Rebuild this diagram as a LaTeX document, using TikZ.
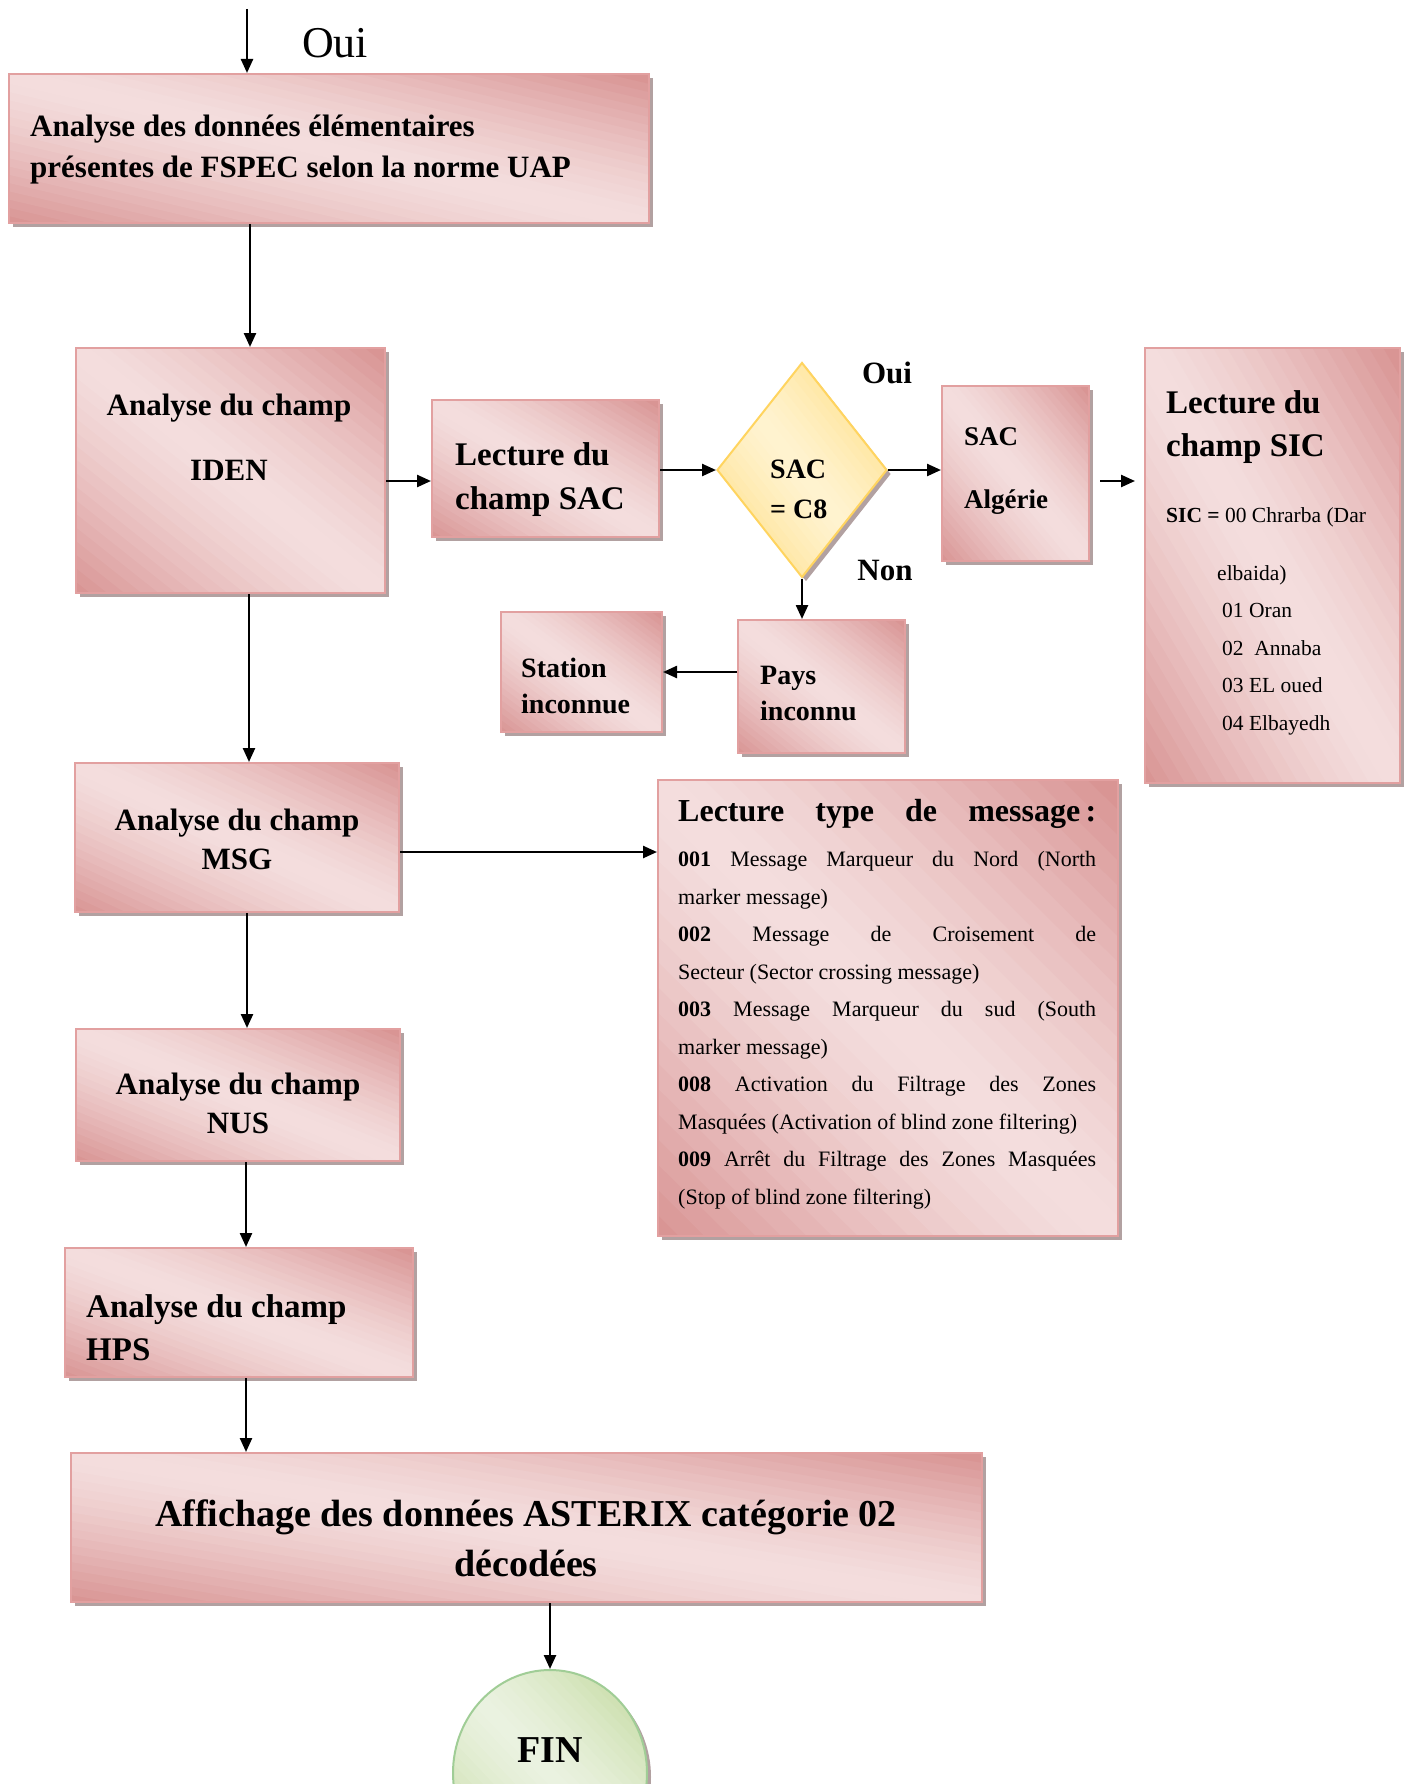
\documentclass[tikz,border=0pt]{standalone}
\usepackage{fontspec}
\setmainfont{Liberation Serif}
\usetikzlibrary{shapes.geometric,arrows.meta,shadows,fit}
\definecolor{pinkD}{RGB}{216,146,145}
\definecolor{pinkL}{RGB}{244,222,222}
\definecolor{pinkB}{RGB}{226,160,160}
\definecolor{shad}{RGB}{165,145,145}
\definecolor{yelD}{RGB}{255,214,100}
\definecolor{yelL}{RGB}{255,243,208}
\definecolor{yelB}{RGB}{255,212,95}
\definecolor{grnD}{RGB}{190,214,150}
\definecolor{grnL}{RGB}{234,242,224}
\definecolor{grnB}{RGB}{160,205,150}
\newcommand{\fsz}[2]{\fontsize{#1}{#2}\selectfont}
% diagonal gradient drawn as bands: dark at bottom-left and top-right, light in the middle
\newcommand{\gradbands}[3]{%
  \pgfpointanchor{path picture bounding box}{south west}\pgfgetlastxy{\gxa}{\gya}%
  \pgfpointanchor{path picture bounding box}{north east}\pgfgetlastxy{\gxb}{\gyb}%
  \pgfmathsetmacro{\ax}{\gxa}\pgfmathsetmacro{\ay}{\gya}%
  \pgfmathsetmacro{\gw}{\gxb-\gxa}\pgfmathsetmacro{\gh}{\gyb-\gya}%
  \foreach \k in {1,...,#3}{%
    \pgfmathsetmacro{\sa}{2*(\k-1)/#3-0.01}%
    \pgfmathsetmacro{\sb}{2*\k/#3+0.01}%
    \pgfmathsetmacro{\tc}{100*(abs((2*\k-1)/#3-1))^1.4}%
    \colorlet{gtmp}{#1!\tc!#2}%
    \pgfsetfillcolor{gtmp}%
    \pgfpathmoveto{\pgfpoint{(\ax+(\sa+1)*\gw)*1pt}{(\ay-\gh)*1pt}}%
    \pgfpathlineto{\pgfpoint{(\ax-\gw)*1pt}{(\ay+(\sa+1)*\gh)*1pt}}%
    \pgfpathlineto{\pgfpoint{(\ax-\gw)*1pt}{(\ay+(\sb+1)*\gh)*1pt}}%
    \pgfpathlineto{\pgfpoint{(\ax+(\sb+1)*\gw)*1pt}{(\ay-\gh)*1pt}}%
    \pgfpathclose
    \pgfusepath{fill}%
  }%
}
\tikzset{
  shd/.style={drop shadow={shadow xshift=4pt, shadow yshift=-4pt, fill=shad, opacity=0.85}},
  pbox/.style={draw=pinkB, line width=2pt, path picture={\gradbands{pinkD}{pinkL}{36}}, shd, inner sep=0pt},
  ybox/.style={shape=diamond, draw=yelB, line width=2pt, path picture={\gradbands{yelD}{yelL}{36}}, shd, inner sep=0pt},
  gbox/.style={shape=ellipse, draw=grnB, line width=2pt, path picture={\gradbands{grnD}{grnL}{36}}, shd, inner sep=0pt},
  tx/.style={inner sep=0pt, text=black},
  arr/.style={line width=2.4pt, -{Triangle[length=14pt,width=12pt]}}
}
\begin{document}
\begin{tikzpicture}[x=1pt,y=-1pt]
\clip (0,0) rectangle (1404,1784);
% boxes
\node[pbox, fit={(9,74)(649,223)}] (box1) {};
\node[pbox, fit={(76,348)(385,593)}] (iden) {};
\node[pbox, fit={(432,400)(659,537)}] (sac) {};
\node[ybox, minimum width=170pt, minimum height=215pt] (dia) at (802,470) {};
\node[pbox, fit={(942,386)(1089,561)}] (alg) {};
\node[pbox, fit={(1145,348)(1400,783)}] (sic) {};
\node[pbox, fit={(738,620)(905,753)}] (pays) {};
\node[pbox, fit={(501,612)(662,732)}] (sta) {};
\node[pbox, fit={(75,763)(399,912)}] (msg) {};
\node[pbox, fit={(658,780)(1118,1236)}] (typ) {};
\node[pbox, fit={(76,1029)(400,1161)}] (nus) {};
\node[pbox, fit={(65,1248)(413,1377)}] (hps) {};
\node[pbox, fit={(71,1453)(982,1602)}] (aff) {};
\node[gbox, minimum width=194pt, minimum height=206pt] (fin) at (550,1773) {};
% texts
\node[tx, font=\fsz{44}{50}] (ouiTop) at (335,43) {Oui};
\node[tx, anchor=west, align=left, font=\fsz{31}{41}\bfseries] (tBox1) at (30,149.5) {Analyse des données élémentaires\\présentes de FSPEC selon la norme UAP};
\node[tx, align=center, font=\fsz{31}{65}\bfseries] (tIden) at (229,437.5) {Analyse du champ\\IDEN};
\node[tx, anchor=west, align=left, font=\fsz{33}{44}\bfseries] (tSac) at (455,480) {Lecture du\\champ SAC};
\node[tx, anchor=west, align=left, font=\fsz{28}{40}\bfseries] (tDia) at (770,489) {SAC\\= C8};
\node[tx, font=\fsz{31}{36}\bfseries] (tOui) at (887,373) {Oui};
\node[tx, font=\fsz{31}{36}\bfseries] (tNon) at (885,570) {Non};
\node[tx, anchor=west, align=left, font=\fsz{27}{63}\bfseries] (tAlg) at (964,471.5) {SAC\\Algérie};
\node[tx, anchor=west, align=left, font=\fsz{33}{43}\bfseries] (tSic) at (1166,427.5) {Lecture du\\champ SIC};
\node[tx, anchor=west, align=left, font=\fsz{21.5}{37.5}] (tSicL) at (1166,621) {\textbf{SIC =} 00 Chrarba (Dar\\[20.5pt]
\hspace*{51pt}elbaida)\\
\hspace*{56pt}01 Oran\\
\hspace*{56pt}02\ \ Annaba\\
\hspace*{56pt}03 EL oued\\
\hspace*{56pt}04 Elbayedh};
\node[tx, anchor=west, align=left, font=\fsz{28}{36}\bfseries] (tPays) at (760,693) {Pays\\inconnu};
\node[tx, anchor=west, align=left, font=\fsz{28}{36}\bfseries] (tSta) at (521,686) {Station\\inconnue};
\node[tx, align=center, font=\fsz{31}{39}\bfseries] (tMsg) at (237,839.5) {Analyse du champ\\MSG};
\node[tx, anchor=north west, text width=418pt, align=justify, font=\fsz{22}{37.5}] (tTyp) at (678,799) {%
\tolerance=10000\relax\hbadness=10000\relax
{\fsz{32}{45}\bfseries Lecture\hfill type\hfill de\hfill message\,:\par}\vspace{8pt}
\textbf{001} Message Marqueur du Nord (North\linebreak marker message)\par
\textbf{002} Message de Croisement de\linebreak Secteur (Sector crossing message)\par
\textbf{003} Message Marqueur du sud (South\linebreak marker message)\par
\textbf{008} Activation du Filtrage des Zones\linebreak Masquées (Activation of blind zone filtering)\par
\textbf{009} Arrêt du Filtrage des Zones Masquées\linebreak (Stop of blind zone filtering)\par};
\node[tx, align=center, font=\fsz{31}{39}\bfseries] (tNus) at (238,1103.5) {Analyse du champ\\NUS};
\node[tx, anchor=west, align=left, font=\fsz{33}{43}\bfseries] (tHps) at (86,1327.5) {Analyse du champ\\HPS};
\node[tx, align=center, font=\fsz{38}{50}\bfseries] (tAff) at (526,1538) {Affichage des données ASTERIX catégorie 02\\décodées};
\node[tx, font=\fsz{38}{44}\bfseries] (tFin) at (550,1750) {FIN};
% connectors
\coordinate (top0) at (247,9);
\coordinate (xa) at (250,0);
\coordinate (xb) at (249,0);
\coordinate (xc) at (247,0);
\coordinate (xd) at (246,0);
\coordinate (xe) at (550,0);
\coordinate (ya) at (0,481);
\coordinate (yb) at (0,852);
\draw[arr] (top0) -- (top0 |- box1.north);
\draw[arr] (box1.south -| xa) -- (iden.north -| xa);
\draw[arr] (iden.east |- ya) -- (sac.west |- ya);
\draw[arr] (sac.east |- dia.west) -- (dia.west);
\draw[arr] (dia.east) -- (alg.west |- dia.east);
\draw[arr] ([xshift=10pt]alg.east |- ya) coordinate (q) -- ([xshift=-9pt]sic.west |- q);
\draw[arr] (dia.south) -- (dia.south |- pays.north);
\draw[arr] (pays.west |- sta.east) -- (sta.east);
\draw[arr] (iden.south -| xb) -- (msg.north -| xb);
\draw[arr] (msg.east |- yb) -- (typ.west |- yb);
\draw[arr] (msg.south -| xc) -- (nus.north -| xc);
\draw[arr] (nus.south -| xd) -- (hps.north -| xd);
\draw[arr] (hps.south -| xd) -- (aff.north -| xd);
\draw[arr] (aff.south -| xe) -- (fin.north);
\end{tikzpicture}
\end{document}
